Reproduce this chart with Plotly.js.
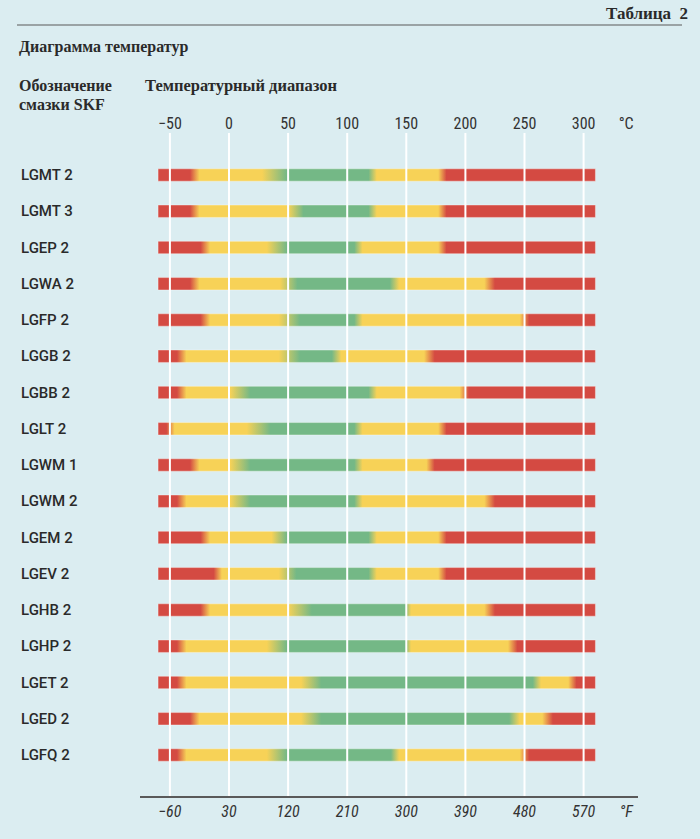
<!DOCTYPE html>
<html>
<head>
<meta charset="utf-8">
<script src="https://cdn.plot.ly/plotly-3.0.1.min.js"></script>
<style>
  html, body { margin: 0; padding: 0; background: #dbedf1; }
  #chart { width: 700px; height: 839px; }
</style>
</head>
<body>
<div id="chart"></div>
<script>
// ---- Data ----
const greases = ['LGMT 2','LGMT 3','LGEP 2','LGWA 2','LGFP 2','LGGB 2','LGBB 2','LGLT 2',
                 'LGWM 1','LGWM 2','LGEM 2','LGEV 2','LGHB 2','LGHP 2','LGET 2','LGED 2','LGFQ 2'];
const scaleMin = -60;   // °C, left end of every bar
const scaleMax = 310;   // °C, right end of every bar
// transitions [from, to] in °C
const redToYellow = [[-33,-25],[-33,-25],[-24,-16],[-33,-25],[-24,-16],[-44,-36],[-44,-36],[-53,-46],
                     [-33,-25],[-44,-36],[-24,-16],[-13,-6],[-24,-16],[-44,-36],[-44,-36],[-33,-25],[-44,-36]];
const yellowToGreen = [[28,49],[50,63],[32,49],[43,58],[42,60],[42,60],[1,18],[15,35],
                       [1,18],[1,18],[36,49],[42,57],[50,70],[32,49],[61,78],[61,78],[32,49]];
const greenToYellow = [[118,125],[118,125],[106,113],[136,144],[106,113],[87,95],[118,125],[106,113],
                       [106,113],[106,113],[118,125],[118,125],[149,154],[149,154],[257,264],[237,246],[137,144]];
const yellowToRed = [[177,184],[177,184],[177,184],[216,225],[246,254],[165,174],[195,203],[177,184],
                     [167,174],[216,225],[177,184],[177,184],[216,225],[236,244],[287,294],[265,274],[246,254]];
const celsiusTicks = [-50, 0, 50, 100, 150, 200, 250, 300];
const fahrenheitLabels = ['−60','30','120','210','300','390','480','570'];
const celsiusLabels = ['−50','0','50','100','150','200','250','300'];
const unitPos = 336;

// ---- Styles ----
const RED = '#d44a42', YELLOW = '#f7d257', GREEN = '#74b886';
const BG = '#dbedf1';
const TXT = '#2a2a2a';
const SERIF = 'Liberation Serif, DejaVu Serif, serif';
const SANS = 'Roboto, Liberation Sans, sans-serif';
const NARROW = 'Liberation Sans Narrow, Roboto Condensed, Roboto, sans-serif';

const L = 140, R = 638, T = 133, B = 796, W = 700, H = 839;
const xp = px => (px - L) / (R - L);
const yp = py => (B - py) / (B - T);
const halfH = 0.17;

const norm = v => (v - scaleMin) / (scaleMax - scaleMin);
const traces = greases.map((g, i) => {
  const cs = [
    [0, RED], [norm(redToYellow[i][0]), RED], [norm(redToYellow[i][1]), YELLOW],
    [norm(yellowToGreen[i][0]), YELLOW], [norm(yellowToGreen[i][1]), GREEN],
    [norm(greenToYellow[i][0]), GREEN], [norm(greenToYellow[i][1]), YELLOW],
    [norm(yellowToRed[i][0]), YELLOW], [norm(yellowToRed[i][1]), RED], [1, RED]
  ];
  return {
    type: 'scatter', mode: 'lines', name: g,
    x: [scaleMin, scaleMax, scaleMax, scaleMin, scaleMin],
    y: [i - halfH, i - halfH, i + halfH, i + halfH, i - halfH],
    fill: 'toself',
    fillgradient: { type: 'horizontal', colorscale: cs, start: scaleMin, stop: scaleMax },
    line: { color: 'rgba(255,255,255,0.35)', width: 1 },
    hoverinfo: 'skip', showlegend: false
  };
});
// invisible trace so the top (°C) axis is drawn
traces.push({ type: 'scatter', x: [scaleMin], y: [0], xaxis: 'x2', yaxis: 'y',
  mode: 'markers', marker: { opacity: 0 }, hoverinfo: 'skip', showlegend: false });

const pxPerC = 59.1 / 50;
const left = -(229 - L) / pxPerC;
const right = left + (R - L) / pxPerC;

const shapes = celsiusTicks.map(v => ({
  type: 'line', xref: 'x', yref: 'paper', x0: v, x1: v, y0: 0, y1: 1,
  line: { color: '#ffffff', width: 2 }, layer: 'above'
}));
shapes.push({ type: 'line', xref: 'paper', yref: 'paper', x0: xp(17), x1: xp(682), y0: yp(25), y1: yp(25),
  line: { color: '#5a5a5a', width: 1.2 } });

const annotations = [
  { text: 'Таблица  2', x: xp(690), y: yp(14), xanchor: 'right', yanchor: 'middle',
    font: { family: SERIF, size: 17, color: TXT, weight: 'bold' } },
  { text: 'Диаграмма температур', x: xp(17), y: yp(47), xanchor: 'left', yanchor: 'middle',
    font: { family: SERIF, size: 16, color: TXT, weight: 'bold' } },
  { text: 'Обозначение', x: xp(17), y: yp(85), xanchor: 'left', yanchor: 'middle',
    font: { family: SERIF, size: 16, color: TXT, weight: 'bold' } },
  { text: 'смазки SKF', x: xp(17), y: yp(105), xanchor: 'left', yanchor: 'middle',
    font: { family: SERIF, size: 16, color: TXT, weight: 'bold' } },
  { text: 'Температурный диапазон', x: xp(143), y: yp(85), xanchor: 'left', yanchor: 'middle',
    font: { family: SERIF, size: 16.5, color: TXT, weight: 'bold' } }
].map(a => Object.assign({ xref: 'paper', yref: 'paper', showarrow: false }, a));
greases.forEach((g, i) => annotations.push({
  text: g, xref: 'paper', yref: 'y', x: xp(19), y: i, xanchor: 'left', yanchor: 'middle',
  showarrow: false, font: { family: SANS, size: 15, color: TXT, weight: 500 }
}));

const layout = {
  width: W, height: H,
  margin: { l: L, r: W - R, t: T, b: H - B, pad: 0 },
  paper_bgcolor: BG, plot_bgcolor: BG,
  xaxis: {
    range: [left, right], showgrid: false, zeroline: false,
    showline: true, linecolor: '#5a5a5a', linewidth: 1.5,
    tickvals: celsiusTicks.concat([unitPos]), ticktext: fahrenheitLabels.concat(['°F']),
    ticks: '',
    tickfont: { family: NARROW, size: 16, color: '#333', style: 'italic' }, fixedrange: true
  },
  xaxis2: {
    range: [left, right], overlaying: 'x', side: 'top', showgrid: false, zeroline: false,
    showline: false, tickvals: celsiusTicks.concat([unitPos]), ticktext: celsiusLabels.concat(['°C']),
    ticks: '', tickfont: { family: NARROW, size: 16, color: '#333' }, fixedrange: true
  },
  yaxis: {
    range: [16 + (B - 755) / 36.25, -(175 - T) / 36.25], showgrid: false, zeroline: false,
    showline: false, showticklabels: false, ticks: '', fixedrange: true
  },
  shapes: shapes, annotations: annotations, showlegend: false
};

Plotly.newPlot('chart', traces, layout, { displayModeBar: false, staticPlot: true });
</script>
</body>
</html>
